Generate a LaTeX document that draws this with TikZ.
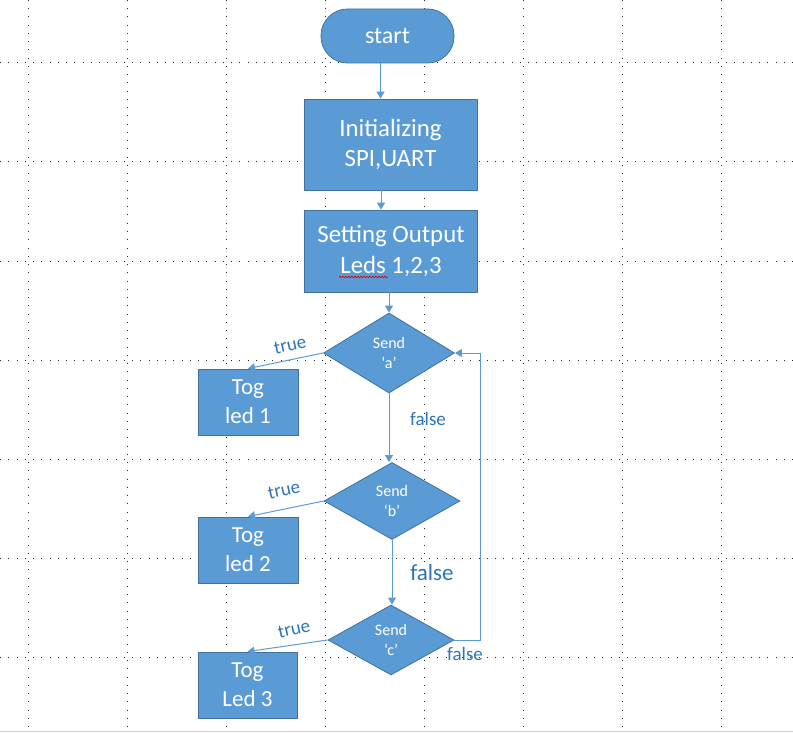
\documentclass[tikz,border=0pt]{standalone}
\usepackage{fontspec}
\setmainfont{Carlito}
\usepackage{tikz}
\usetikzlibrary{arrows.meta, shapes.geometric, decorations.pathmorphing}
\definecolor{boxfill}{HTML}{5B9BD5}
\definecolor{boxline}{HTML}{41719C}
\definecolor{labelblue}{HTML}{2E75B6}

\begin{document}
\begin{tikzpicture}[x=1pt, y=-1pt,
        procbox/.style={draw=boxline, fill=boxfill, text=white, line width=0.8pt, align=center, inner sep=0pt, font=\fontsize{24.8}{30.5}\selectfont},
        decision/.style={diamond, aspect=1.6, draw=boxline, fill=boxfill, text=white, line width=0.8pt, align=center, inner sep=0pt, font=\fontsize{16}{20}\selectfont},
        flow/.style={draw=boxfill, line width=1pt, -{Triangle[length=7pt, width=8pt]}},
        branch/.style={text=labelblue, inner sep=0pt, font=\fontsize{19}{22}\selectfont}]
        \useasboundingbox (0, 0) rectangle (793, 733);

        \foreach \gx in {28,127,...,721} {
            \draw[line width=1pt, dash pattern=on 1pt off 7.25pt, black!85] (\gx, 0) -- (\gx, 730);
        }

        \foreach \gy in {63,162,...,657} {
            \draw[line width=1pt, dash pattern=on 1pt off 7.25pt, black!85] (0, \gy) -- (793, \gy);
        }

        \draw[gray!35, line width=1.5pt] (0, 731.5) -- (793, 731.5);

        \node[procbox, rounded corners=26.5pt, minimum width=133pt, minimum height=54pt, font=\fontsize{24}{30}\selectfont] (start) at (387.5, 36) {start};

        \node[procbox, minimum width=173pt, minimum height=91pt] (init) at (390.5, 144.5) {Initializing\\SPI,UART};

        \node[procbox, minimum width=173pt, minimum height=82pt] (setout) at (391, 251) {Setting Output\\Leds 1,2,3};

        \draw[red!85!black, line width=0.6pt, decorate, decoration={snake, segment length=3pt, amplitude=0.8pt}] (339, 277) -- (388, 277);

        \node[decision, minimum width=131pt, minimum height=80pt] (senda) at (389, 353) {Send\\‘a’};

        \node[decision, minimum width=136pt, minimum height=77pt] (sendb) at (392, 501) {Send\\‘b’};

        \node[decision, minimum width=126pt, minimum height=70pt] (sendc) at (391, 640) {Send\\‘c’};

        \node[procbox, minimum width=100pt, minimum height=66pt, font=\fontsize{23}{29}\selectfont] (togA) at (248, 402) {Tog\\led 1};

        \node[procbox, minimum width=100pt, minimum height=66pt, font=\fontsize{23}{29}\selectfont] (togB) at (248, 550) {Tog\\led 2};

        \node[procbox, minimum width=99pt, minimum height=66pt, font=\fontsize{23}{29}\selectfont] (togC) at (247.5, 685) {Tog\\Led 3};

        \draw[flow] ([xshift=-7pt]start.south) -- ([xshift=-7pt]start.south |- init.north);

        \draw[flow] ([xshift=-9.5pt]init.south) -- ([xshift=-9.5pt]init.south |- setout.north);

        \draw[flow] (senda.north |- setout.south) -- (senda.north);

        \draw[flow] (senda.west) -- (togA.north);

        \draw[flow] (sendb.west) -- (togB.north);

        \draw[flow] (sendc.west) -- (togC.north);

        \draw[flow] (senda.south) -- (senda.south |- sendb.north);

        \draw[flow] (sendb.south) -- (sendb.south |- sendc.north);

        \draw[flow] (sendc.east) -- ++(26, 0) |- (senda.east);

        \node[branch, rotate=12] (trueA) at (290, 345) {true};

        \node[branch, rotate=12] (trueB) at (284, 490) {true};

        \node[branch, rotate=12] (trueC) at (294, 629) {true};

        \node[branch] (falseA) at (428, 419) {false};

        \node[branch, font=\fontsize{23}{26}\selectfont] (falseB) at (432, 573) {false};

        \node[branch] (falseC) at (465, 654) {false};

    \end{tikzpicture}
\end{document}
